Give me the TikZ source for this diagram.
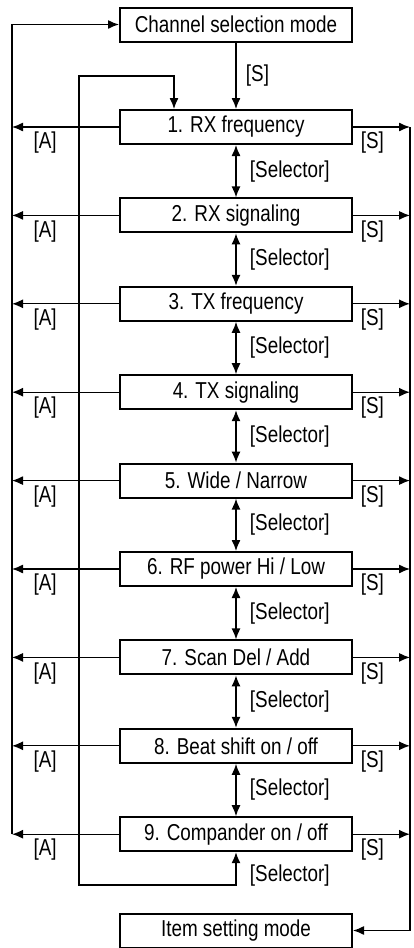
\documentclass[tikz,border=0pt]{standalone}
\usepackage{fontspec}
\setmainfont{Liberation Sans}[FakeStretch=0.82]
\usetikzlibrary{arrows.meta}

\begin{document}
\begin{tikzpicture}[x=1pt,y=-1pt]
  \tikzstyle{every node}=[font=\fontsize{23}{26}\selectfont]
  \tikzstyle{item}=[draw,line width=2pt,minimum width=232pt,minimum height=34pt,inner sep=0pt]
  \tikzstyle{line}=[line width=1.3pt]
  \tikzstyle{arr}=[line,-{Latex[length=11pt,width=9pt]}]
  \tikzstyle{biarr}=[line,{Latex[length=11pt,width=9pt]}-{Latex[length=11pt,width=9pt]}]
  \tikzstyle{sel}=[anchor=west,xshift=10pt]
  \useasboundingbox (0,0) rectangle (413,948);
  \node [item] (chmode) at (236,24.5) {Channel selection mode};
  \node [item] (i1) at (236,127) {1. RX frequency};
  \node [item] (i2) at (236,215.4) {2. RX signaling};
  \node [item] (i3) at (236,303.8) {3. TX frequency};
  \node [item] (i4) at (236,392.2) {4. TX signaling};
  \node [item] (i5) at (236,480.6) {5. Wide / Narrow};
  \node [item] (i6) at (236,569) {6. RF power Hi / Low};
  \node [item] (i7) at (236,657.4) {7. Scan Del / Add};
  \node [item] (i8) at (236,745.8) {8. Beat shift on / off};
  \node [item] (i9) at (236,834.2) {9. Compander on / off};
  \node [item] (itmode) at (236,930.5) {Item setting mode};
  \coordinate (lx) at (12,24.5);
  \coordinate (rx) at (410,127);
  \coordinate (lb) at (79,885);
  \coordinate (lt) at (79,76);
  % mode entry and item steps
  \draw [arr] (chmode) -- node [sel,xshift=-4pt] {[S]} (i1);
  \draw [biarr] (i1) -- node [sel] {[Selector]} (i2);
  \draw [biarr] (i2) -- node [sel] {[Selector]} (i3);
  \draw [biarr] (i3) -- node [sel] {[Selector]} (i4);
  \draw [biarr] (i4) -- node [sel] {[Selector]} (i5);
  \draw [biarr] (i5) -- node [sel] {[Selector]} (i6);
  \draw [biarr] (i6) -- node [sel] {[Selector]} (i7);
  \draw [biarr] (i7) -- node [sel] {[Selector]} (i8);
  \draw [biarr] (i8) -- node [sel] {[Selector]} (i9);
  \draw [biarr] (i9.south) |- node [sel,pos=0.35] {[Selector]} (lb) -- (lt) -| ([xshift=55pt]i1.north west);
  % exits to both sides
  \foreach \n in {1,...,9} {
    \coordinate (l\n) at (i\n.west -| lx);
    \coordinate (r\n) at (i\n.east -| rx);
    \draw [arr] (i\n.west) -- node [pos=0.69,below=1pt] {[A]} (l\n);
    \draw [arr] (i\n.east) -- node [pos=0.34,below=1pt] {[S]} (r\n);
  }
  \draw [arr] (l9) |- (chmode.west);
  \draw [arr] (r1) |- (itmode.east);
\end{tikzpicture}
\end{document}
